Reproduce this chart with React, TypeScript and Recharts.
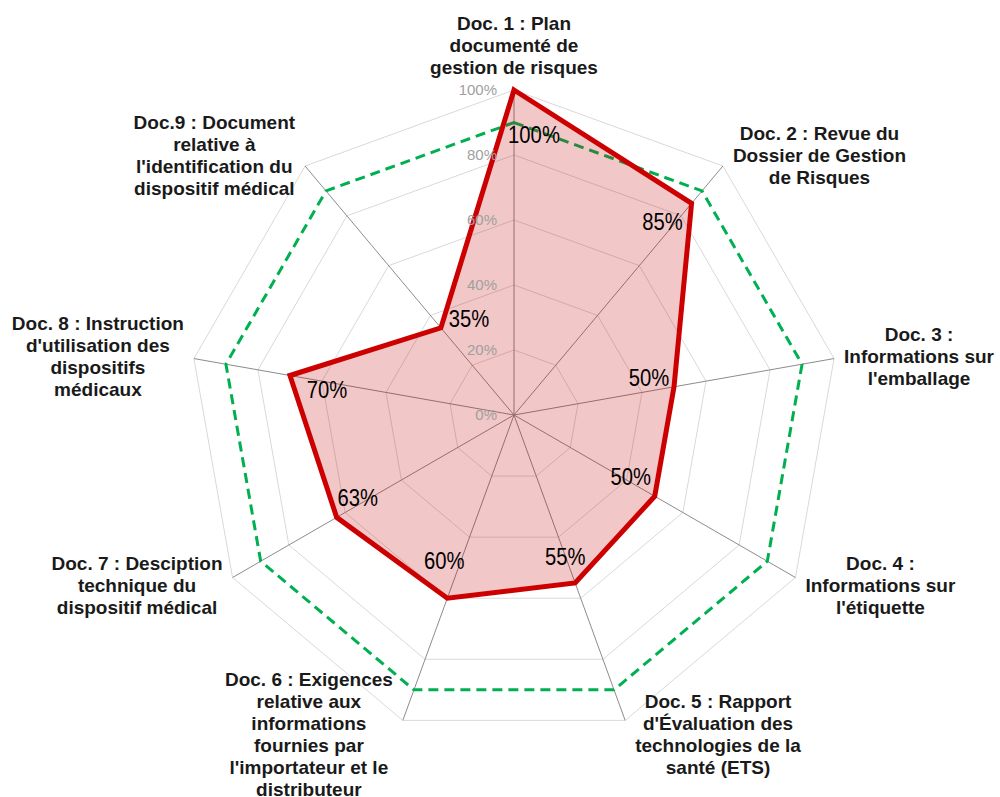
import React from 'react';
import {
  RadarChart,
  Radar,
  PolarGrid,
  PolarAngleAxis,
  PolarRadiusAxis,
} from 'recharts';

const documents = [
  'Doc. 1 : Plan\ndocumenté de\ngestion de risques',
  'Doc. 2 : Revue du\nDossier de Gestion\nde Risques',
  'Doc. 3 :\nInformations sur\nl\'emballage',
  'Doc. 4 :\nInformations sur\nl\'étiquette',
  'Doc. 5 : Rapport\nd\'Évaluation des\ntechnologies de la\nsanté (ETS)',
  'Doc. 6 : Exigences\nrelative aux\ninformations\nfournies par\nl\'importateur et le\ndistributeur',
  'Doc. 7 : Desciption\ntechnique du\ndispositif médical',
  'Doc. 8 : Instruction\nd\'utilisation des\ndispositifs\nmédicaux',
  'Doc.9 : Document\nrelative à\nl\'identification du\ndispositif médical',
];
const scores = [100, 85, 50, 50, 55, 60, 63, 70, 35];
const targets = [90, 90, 90, 90, 90, 90, 90, 90, 90];
const radiusTicks = [0, 20, 40, 60, 80, 100];

const data = documents.map((name, i) => ({
  name,
  score: scores[i],
  target: targets[i],
}));

const CX = 514;
const CY = 415;
const R = 325;
const LINE = 22;
const LABEL_FONT = 'bold 19px "Liberation Sans", Arial, sans-serif';

let ctx: CanvasRenderingContext2D | null = null;
function textWidth(s: string) {
  if (!ctx) ctx = document.createElement('canvas').getContext('2d');
  if (!ctx) return s.length * 9;
  ctx.font = LABEL_FONT;
  return ctx.measureText(s).width;
}

function DocTick(props: any) {
  const { payload, index } = props;
  const lines = String(payload.value).split('\n');
  const angle =
    typeof payload.coordinate === 'number' ? payload.coordinate : 90 - (index * 360) / documents.length;
  const rad = (angle * Math.PI) / 180;
  const cos = Math.cos(rad);
  const sin = Math.sin(rad);
  const ex = CX + R * cos;
  const ey = CY - R * sin;
  const w = Math.max(...lines.map(textWidth));
  const h = lines.length * LINE;
  let bx = ex;
  let by = ey;
  if (Math.abs(cos) < 0.2) {
    by = ey + (sin > 0 ? -(h / 2 + 12) : h / 2 + 12);
  } else {
    bx = ex + Math.sign(cos) * (w / 2 + 10);
    by = ey - sin * 15;
  }
  const top = by - h / 2;
  return (
    <text
      textAnchor="middle"
      fontSize={19}
      fontWeight="bold"
      fill="#1a1a1a"
      fontFamily='"Liberation Sans", Arial, sans-serif'
    >
      {lines.map((l, i) => (
        <tspan key={i} x={bx} y={top + i * LINE + LINE / 2 + 7}>
          {l}
        </tspan>
      ))}
    </text>
  );
}

function RadiusTick(props: any) {
  const { x, y, payload } = props;
  return (
    <text
      x={x - 17}
      y={y + 5}
      textAnchor="end"
      fontSize={15}
      fill="#a0a0a0"
      fontFamily='"Liberation Sans", Arial, sans-serif'
    >
      {payload.value}%
    </text>
  );
}

// label offsets from each point, as Excel placed them
const labelNudge = [
  [20, 45],
  [-29, 19],
  [-25, -9],
  [-24, -19],
  [-10, -26],
  [-3, -37],
  [21, -19],
  [37, 15],
  [28, -9],
];

function ValueLabel(props: any) {
  const { cx, cy, index } = props;
  const [dx, dy] = labelNudge[index] || [0, 0];
  return (
    <text
      key={`v-${index}`}
      transform={`translate(${cx + dx},${cy + dy}) scale(0.88,1)`}
      textAnchor="middle"
      dominantBaseline="central"
      fontSize={23}
      fill="#000"
      fontFamily='"Liberation Sans", Arial, sans-serif'
    >
      {scores[index]}%
    </text>
  );
}

export default function App() {
  return (
    <div style={{ position: 'absolute', left: 0, top: 0, width: 1000, height: 797, background: '#fff' }}>
      <RadarChart
        width={1000}
        height={797}
        cx={CX}
        cy={CY}
        outerRadius={R}
        data={data}
        margin={{ top: 0, right: 0, bottom: 0, left: 0 }}
      >
        <PolarGrid gridType="polygon" radialLines={false} stroke="#d9d9d9" />
        <PolarGrid gridType="polygon" polarRadius={[]} stroke="#8c8c8c" />
        <PolarAngleAxis dataKey="name" tick={DocTick} axisLine={false} tickLine={false} />
        <PolarRadiusAxis
          angle={90}
          domain={[0, 100]}
          ticks={radiusTicks}
          tickCount={6}
          axisLine={false}
          tickLine={false}
          tick={RadiusTick}
        />
        <Radar
          dataKey="target"
          stroke="#00b050"
          strokeWidth={3}
          strokeDasharray="10 6"
          fill="none"
          fillOpacity={0}
          dot={false}
          isAnimationActive={false}
        />
        <Radar
          dataKey="score"
          stroke="#cc0000"
          strokeWidth={5}
          strokeLinejoin="miter"
          fill="#c00000"
          fillOpacity={0.22}
          dot={ValueLabel}
          isAnimationActive={false}
        />
      </RadarChart>
    </div>
  );
}
